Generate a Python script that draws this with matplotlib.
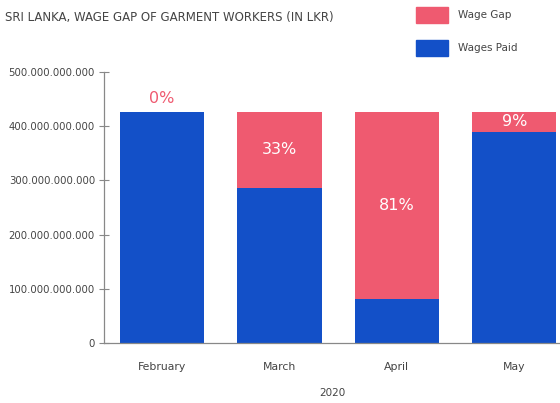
import matplotlib.pyplot as plt
from matplotlib.patches import Patch
from matplotlib.ticker import FuncFormatter

# Данные (LKR)
months = ['February', 'March', 'April', 'May']
wages_paid = [427e9, 286e9, 81e9, 389e9]
wage_gap = [0, 141e9, 346e9, 38e9]
gap_pct = ['0%', '33%', '81%', '9%']
yticks = [0, 100e9, 200e9, 300e9, 400e9, 500e9]

blue = '#1350C8'
pink = '#EF5A70'
grey = '#444444'

plt.rcParams['font.family'] = ['DejaVu Sans']

fig = plt.figure(figsize=(5.6, 4.03), dpi=100)
ax = fig.add_axes([104 / 560, 60 / 403, 456 / 560, 271 / 403])

x = range(len(months))
ax.bar(x, wages_paid, width=0.72, color=blue, zorder=2)
ax.bar(x, wage_gap, width=0.72, bottom=wages_paid, color=pink, zorder=2)

# Подписи процентов: в центре розового сегмента, для 0% над столбцом
for i, (paid, gap, pct) in enumerate(zip(wages_paid, wage_gap, gap_pct)):
    if gap == 0:
        ax.text(i, paid + 10e9, pct, ha='center', va='bottom',
                color=pink, fontsize=11.5)
    else:
        ax.text(i, paid + gap / 2, pct, ha='center', va='center',
                color='white', fontsize=11.5)

ax.set_xlim(-0.494, 3.39)
ax.set_ylim(0, 500e9)
ax.set_yticks(yticks)
ax.yaxis.set_major_formatter(
    FuncFormatter(lambda v, p: '{:,.0f}'.format(v).replace(',', '.')))
ax.set_xticks(list(x))
ax.set_xticklabels(months)
ax.set_xlabel('2020', fontsize=7.5, color=grey, labelpad=11)

for s in ['top', 'right']:
    ax.spines[s].set_visible(False)
for s in ['left', 'bottom']:
    ax.spines[s].set_color('#888888')
    ax.spines[s].set_linewidth(0.9)
ax.tick_params(axis='y', direction='inout', length=7, color='#888888',
               labelsize=7.3, labelcolor=grey, pad=3)
ax.tick_params(axis='x', length=0, labelsize=7.8, labelcolor=grey, pad=14)

fig.text(5 / 560, 1 - 17 / 403, 'SRI LANKA, WAGE GAP OF GARMENT WORKERS (IN LKR)',
         fontsize=8.5, color=grey, va='center', ha='left')

handles = [Patch(color=pink, label='Wage Gap'),
           Patch(color=blue, label='Wages Paid')]
fig.legend(handles=handles, loc='upper left', bbox_to_anchor=(407 / 560, 1.006),
           frameon=False, fontsize=7.5, handlelength=3.0, handleheight=2.0,
           labelspacing=1.6, handletextpad=1.0, labelcolor=grey)

fig.savefig('out.png', dpi=100)
